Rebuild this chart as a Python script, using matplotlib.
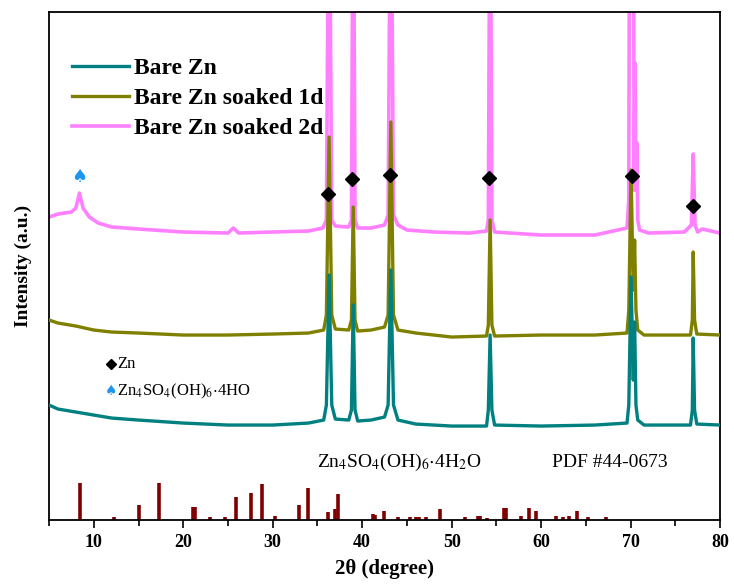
import numpy as np
import matplotlib
matplotlib.use('Agg')
import matplotlib.pyplot as plt

plt.rcParams['font.family'] = ['Liberation Serif', 'DejaVu Sans']
plt.rcParams['mathtext.fontset'] = 'stix'

# XRD patterns (2theta, intensity a.u. with stacking offset)
bare_x = [5, 6, 8, 10, 12, 15, 20, 25, 30, 34, 35.7, 36.0, 36.3, 36.6, 37, 38.5, 38.8, 39.0, 39.2, 39.5,
          41, 42.5, 42.9, 43.2, 43.5, 44, 46, 50, 53.9, 54.1, 54.3, 54.5, 54.8, 60, 66, 69.6, 69.8,
          70.05, 70.3, 70.45, 70.6, 70.8, 71.5, 76.7, 76.9, 77.0, 77.15, 77.4, 80]
bare_y = [115, 111, 108, 105, 102, 100, 97, 95, 95, 97, 100, 115, 245, 115, 101, 100, 110, 215, 110, 99,
          100, 103, 115, 250, 115, 100, 96, 94, 94, 110, 185, 110, 95, 94, 95, 97, 115,
          243, 140, 198, 115, 100, 95, 95, 110, 182, 110, 96, 95]

d1_x = [5, 6, 8, 10, 12, 15, 20, 25, 30, 34, 35.7, 36.0, 36.3, 36.6, 37, 38.5, 38.8, 39.0, 39.2, 39.5,
        41, 42.5, 42.9, 43.2, 43.5, 44, 46, 50, 53.9, 54.1, 54.3, 54.5, 54.8, 60, 66, 69.6, 69.8,
        70.05, 70.3, 70.45, 70.6, 70.8, 71.5, 76.7, 76.9, 77.0, 77.15, 77.4, 80]
d1_y = [200, 197, 194, 190, 188, 187, 185, 185, 186, 187, 190, 205, 383, 205, 191, 190, 200, 313, 200, 189,
        190, 193, 205, 398, 205, 190, 187, 183, 184, 195, 300, 195, 184, 185, 185, 187, 210,
        350, 230, 280, 210, 190, 185, 185, 200, 268, 200, 186, 185]

d2_x = [5, 6, 7.5, 8.0, 8.4, 8.8, 9.5, 10.5, 12, 15, 20, 25, 25.6, 26.2, 30, 34, 35.6, 36.0, 36.3, 36.6,
        37, 38.5, 38.8, 39.0, 39.2, 39.5, 41, 42.5, 42.9, 43.2, 43.5, 44, 45, 48, 52, 53.9, 54.1,
        54.3, 54.5, 54.8, 60, 66, 69.6, 69.8, 69.9, 70.3, 70.4, 70.5, 70.6, 70.7, 70.8, 71, 72, 76,
        76.8, 77.0, 77.2, 77.5, 78, 80]
d2_y = [303, 306, 308, 312, 327, 312, 303, 297, 293, 291, 288, 287, 292, 287, 288, 289, 292, 300, 700, 300,
        294, 293, 300, 700, 300, 292, 292, 295, 305, 700, 305, 295, 290, 288, 287, 289, 300,
        700, 300, 288, 285, 285, 292, 320, 700, 700, 330, 457, 330, 377, 300, 290, 287, 288,
        295, 366, 295, 288, 291, 287]

# PDF #44-0673 stick pattern
pdf_pos = [8.5, 12.3, 15.0, 17.25, 21.1, 21.35, 23.0, 24.7, 25.9, 27.6, 28.8, 30.3, 32.9, 34.0, 36.2,
           37.0, 37.3, 41.2, 41.45, 42.4, 43.95, 45.4, 46.0, 46.3, 47.1, 48.7, 51.5, 52.9, 53.2, 54.0,
           55.9, 56.1, 57.8, 58.7, 59.4, 61.7, 62.4, 63.1, 64.0, 65.2, 67.3]
pdf_int = [37, 3, 15, 37, 13, 13, 3, 3, 23, 27, 36, 4, 15, 32, 8,
           11, 26, 6, 5, 9, 3, 3, 3, 3, 3, 11, 3, 4, 4, 2,
           12, 12, 4, 12, 9, 4, 3, 4, 9, 3, 3]

zn_x = [36.2, 38.85, 43.1, 54.2, 70.2, 76.95]
zn_y = [326, 341, 345, 342, 344, 314]

fig = plt.figure(figsize=(7.34, 5.85), dpi=100)
ax = fig.add_axes([0.0668, 0.111, 0.9142, 0.8685])

ax.plot(d2_x, d2_y, color='#FF80FF', lw=2.6, label='Bare Zn soaked 2d', zorder=2)
ax.plot(d1_x, d1_y, color='#808000', lw=2.4, label='Bare Zn soaked 1d', zorder=3)
ax.plot(bare_x, bare_y, color='#008080', lw=2.4, label='Bare Zn', zorder=4)
ax.vlines(pdf_pos, 0, pdf_int, color='#800000', lw=2.6, zorder=2)

ax.plot(zn_x, zn_y, 'D', color='black', ms=7, zorder=6)
ax.text(8.4, 343, '\u2660', color='#1E96F0', fontsize=13, ha='center', va='center',
        family=['DejaVu Sans'], zorder=6)

# marker key
ax.plot([11.9], [156], 'D', color='black', ms=5.5)
ax.text(12.6, 156, 'Zn', fontsize=12, va='center')
ax.text(11.9, 129, '\u2660', color='#1E96F0', fontsize=10, ha='center', va='center',
        family=['DejaVu Sans'])
ax.text(12.6, 129, r'Zn$_4$SO$_4$(OH)$_6$$\cdot$4HO', fontsize=12, va='center')

ax.text(34.9, 58, r'Zn$_4$SO$_4$(OH)$_6$$\cdot$4H$_2$O', fontsize=14, va='center')
ax.text(61.2, 58, 'PDF #44-0673', fontsize=14, va='center')

handles, labels = ax.get_legend_handles_labels()
order = [2, 1, 0]
ax.legend([handles[i] for i in order], [labels[i] for i in order], loc='upper left',
          bbox_to_anchor=(0.034, 0.91), frameon=False, borderpad=0, borderaxespad=0,
          handlelength=2.4, handletextpad=0.25, labelspacing=0.36,
          prop={'family': 'Liberation Serif', 'weight': 'bold', 'size': 17})

ax.set_xlim(5, 80)
ax.set_ylim(0, 508)
ax.set_xticks([10, 20, 30, 40, 50, 60, 70, 80])
ax.set_xticks([5, 15, 25, 35, 45, 55, 65, 75], minor=True)
ax.set_yticks([])
ax.tick_params(axis='x', which='major', direction='out', length=6, width=1.2, labelsize=13, pad=4)
ax.tick_params(axis='x', which='minor', direction='out', length=4, width=1.2)
for lab in ax.get_xticklabels():
    lab.set_fontweight('bold')
for s in ax.spines.values():
    s.set_linewidth(1.3)

ax.set_xlabel('2\u03b8 (degree)', fontsize=15, fontweight='bold', labelpad=6)
ax.set_ylabel('Intensity (a.u.)', fontsize=14, fontweight='bold', labelpad=12)

fig.savefig('out.png', dpi=100)
